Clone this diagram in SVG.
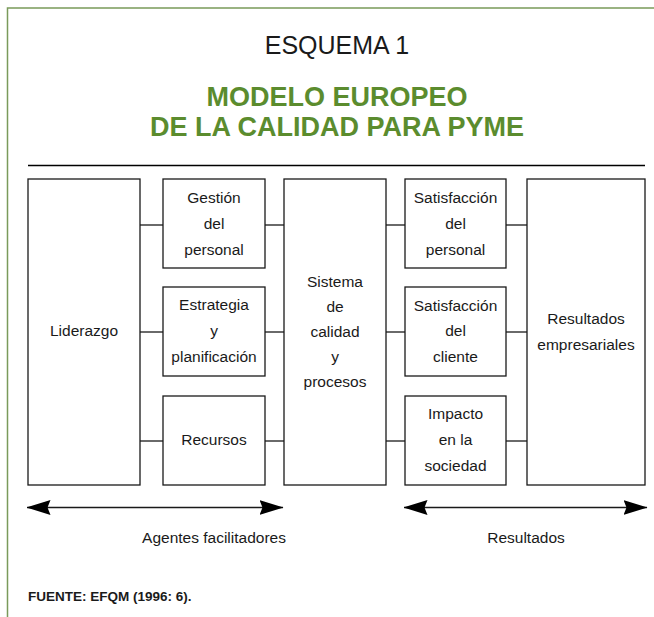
<svg xmlns="http://www.w3.org/2000/svg" width="654" height="617" viewBox="0 0 654 617">
<defs>
<style>
.box{fill:#fff;stroke:#1a1a1a;stroke-width:1.3}
.ln{stroke:#1a1a1a;stroke-width:1.3;fill:none}
.t{font-family:"Liberation Sans",Arial,sans-serif;font-size:15.5px;fill:#1a1a1a;text-anchor:middle}
.ttl{font-family:"Liberation Sans",Arial,sans-serif;font-size:27px;font-weight:bold;fill:#5b8c2e;text-anchor:middle}
</style>
<marker id="ah" viewBox="0 0 24 15" refX="23.5" refY="7.5" markerWidth="24" markerHeight="15" markerUnits="userSpaceOnUse" orient="auto-start-reverse">
<path d="M0,0 L24,7.5 L0,15 L3,7.5 Z" fill="#000"/>
</marker>
</defs>
<rect width="654" height="617" fill="#fff"/>
<path d="M7.5,617 L7.5,8 L654,8" fill="none" stroke="#7a9a5a" stroke-width="1.5"/>
<text x="337" y="54" class="t" style="font-size:25px">ESQUEMA 1</text>
<text x="337" y="106" class="ttl">MODELO EUROPEO</text>
<text x="337" y="136" class="ttl">DE LA CALIDAD PARA PYME</text>
<line x1="28" y1="165.5" x2="645" y2="165.5" stroke="#000" stroke-width="1.3"/>
<g id="connectors">
<line class="ln" x1="140" y1="225" x2="163" y2="225"/>
<line class="ln" x1="140" y1="332" x2="163" y2="332"/>
<line class="ln" x1="140" y1="441" x2="163" y2="441"/>
<line class="ln" x1="265" y1="225" x2="284" y2="225"/>
<line class="ln" x1="265" y1="332" x2="284" y2="332"/>
<line class="ln" x1="265" y1="441" x2="284" y2="441"/>
<line class="ln" x1="386" y1="225" x2="405" y2="225"/>
<line class="ln" x1="386" y1="332" x2="405" y2="332"/>
<line class="ln" x1="386" y1="441" x2="405" y2="441"/>
<line class="ln" x1="506" y1="225" x2="527" y2="225"/>
<line class="ln" x1="506" y1="332" x2="527" y2="332"/>
<line class="ln" x1="506" y1="441" x2="527" y2="441"/>
<line class="ln" x1="27" y1="507.5" x2="283" y2="507.5" marker-start="url(#ah)" marker-end="url(#ah)"/>
<line class="ln" x1="404" y1="507.5" x2="647" y2="507.5" marker-start="url(#ah)" marker-end="url(#ah)"/>
</g>
<g id="liderazgo"><rect class="box" x="28" y="179" width="112" height="306"/><text class="t" x="84" y="336">Liderazgo</text></g>
<g id="gestion"><rect class="box" x="163" y="179" width="102" height="89"/><text class="t" x="214" y="203">Gestión</text><text class="t" x="214" y="229">del</text><text class="t" x="214" y="255">personal</text></g>
<g id="estrategia"><rect class="box" x="163" y="287" width="102" height="89"/><text class="t" x="214" y="310">Estrategia</text><text class="t" x="214" y="336">y</text><text class="t" x="214" y="362">planificación</text></g>
<g id="recursos"><rect class="box" x="163" y="396" width="102" height="89"/><text class="t" x="214" y="445">Recursos</text></g>
<g id="sistema"><rect class="box" x="284" y="179" width="102" height="306"/><text class="t" x="335" y="287">Sistema</text><text class="t" x="335" y="312">de</text><text class="t" x="335" y="337">calidad</text><text class="t" x="335" y="362">y</text><text class="t" x="335" y="387">procesos</text></g>
<g id="satpersonal"><rect class="box" x="405" y="179" width="101" height="89"/><text class="t" x="455.5" y="203">Satisfacción</text><text class="t" x="455.5" y="229">del</text><text class="t" x="455.5" y="255">personal</text></g>
<g id="satcliente"><rect class="box" x="405" y="287" width="101" height="89"/><text class="t" x="455.5" y="311">Satisfacción</text><text class="t" x="455.5" y="336">del</text><text class="t" x="455.5" y="362">cliente</text></g>
<g id="impacto"><rect class="box" x="405" y="396" width="101" height="89"/><text class="t" x="455.5" y="419">Impacto</text><text class="t" x="455.5" y="445">en la</text><text class="t" x="455.5" y="471">sociedad</text></g>
<g id="resultados"><rect class="box" x="527" y="179" width="118" height="306"/><text class="t" x="586" y="324">Resultados</text><text class="t" x="586" y="350">empresariales</text></g>
<text class="t" x="214" y="543">Agentes facilitadores</text>
<text class="t" x="526" y="543">Resultados</text>
<text x="28" y="601" style="font-family:'Liberation Sans',Arial,sans-serif;font-size:13.5px;font-weight:bold;fill:#1a1a1a">FUENTE: EFQM (1996: 6).</text>
</svg>
